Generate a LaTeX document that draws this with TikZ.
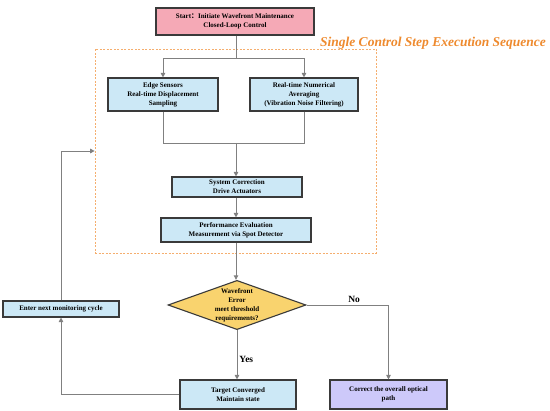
\documentclass[tikz,border=0pt]{standalone}
\usepackage{fontspec}
\setmainfont{Liberation Serif}
\newfontfamily\cjk{Noto Sans CJK SC}
\definecolor{edge}{HTML}{3A3A3A}
\definecolor{wire}{HTML}{808080}
\definecolor{startc}{HTML}{F5A9B6}
\definecolor{stepc}{HTML}{CCE8F6}
\definecolor{askc}{HTML}{F9D36E}
\definecolor{fixc}{HTML}{CDC9FA}
\definecolor{framec}{HTML}{F5AE6E}
\definecolor{titlec}{HTML}{EE8A2E}
\usepackage{tikz}
\usetikzlibrary{arrows.meta,positioning,shapes.geometric,calc}
\tikzset{
  box/.style={draw=edge,line width=1.1pt,fill=stepc,align=center,
              inner sep=1pt,font=\rmfamily\bfseries\fontsize{7}{9}\selectfont},
  hot/.style={box,fill=startc},
  ask/.style={box,diamond,fill=askc,aspect=2.8,inner sep=0pt},
  fixbox/.style={box,fill=fixc},
  arr/.style={-{Triangle[length=4.5pt,width=4.5pt]},wire,line width=0.9pt},
  ln/.style={wire,line width=0.9pt},
  lbl/.style={font=\rmfamily\bfseries\fontsize{9.5}{11}\selectfont,text=black,inner sep=2pt}
}

\begin{document}
\begin{tikzpicture}[x=1pt,y=-1pt]
    \useasboundingbox (0,0) rectangle (550,411);
    % dashed frame of one control step
    \node[draw=framec,dash pattern=on 2pt off 1.5pt,line width=0.7pt,minimum width=281pt,minimum height=204pt] (seq) at (235.5,151) {};
    \node[font=\rmfamily\bfseries\itshape\fontsize{13.5}{15}\selectfont,text=titlec] (title) at (433,43) {Single Control Step Execution Sequence};
    % nodes
    \node[hot,minimum width=158pt,minimum height=27pt] (start) at (235,21.5) {Start{\cjk ：}Initiate Wavefront Maintenance\\Closed-Loop Control};
    \node[box,minimum width=110pt,minimum height=33pt] (sens) at (163,94.5) {Edge Sensors\\Real-time Displacement\\Sampling};
    \node[box,minimum width=108pt,minimum height=33pt] (avg) at (304,94.5) {Real-time Numerical\\Averaging\\(Vibration Noise Filtering)};
    \node[box,minimum width=130pt,minimum height=20pt] (corr) at (237,187) {System Correction\\Drive Actuators};
    \node[box,minimum width=150pt,minimum height=24pt] (eval) at (236,230) {Performance Evaluation\\Measurement via Spot Detector};
    \node[ask] (dec) at (237,305) {Wavefront\\Error\\meet threshold\\requirements?};
    \node[box,minimum width=116pt,minimum height=16pt] (next) at (61,309) {Enter next monitoring cycle};
    \node[box,minimum width=116pt,minimum height=29pt] (conv) at (238,394.5) {Target Converged\\Maintain state};
    \node[fixbox,minimum width=117pt,minimum height=29pt] (fix) at (388.5,394.5) {Correct the overall optical\\path};
    % connectors
    \coordinate (fork) at (236,58);
    \coordinate (merge) at (236,143);
    \draw[ln] (start.south -| fork) -- (fork);
    \draw[arr] (fork) -| (sens);
    \draw[arr] (fork) -| (avg);
    \draw[ln] (sens) |- (merge);
    \draw[ln] (avg) |- (merge);
    \draw[arr] (merge) -- (corr.north -| merge);
    \draw[arr] (corr.south -| merge) -- (eval.north -| merge);
    \draw[arr] (eval.south -| merge) -- (dec.north -| merge);
    \draw[arr] (dec.south) -- node[lbl,right,pos=0.6]{Yes} (conv.north -| dec.south);
    \draw[arr] (dec.east) -| node[lbl,above,pos=0.29]{No} (fix.north);
    \draw[arr] (conv.west) -| (next.south);
    \draw[arr] (next.north) |- (seq.west);
  \end{tikzpicture}
\end{document}
